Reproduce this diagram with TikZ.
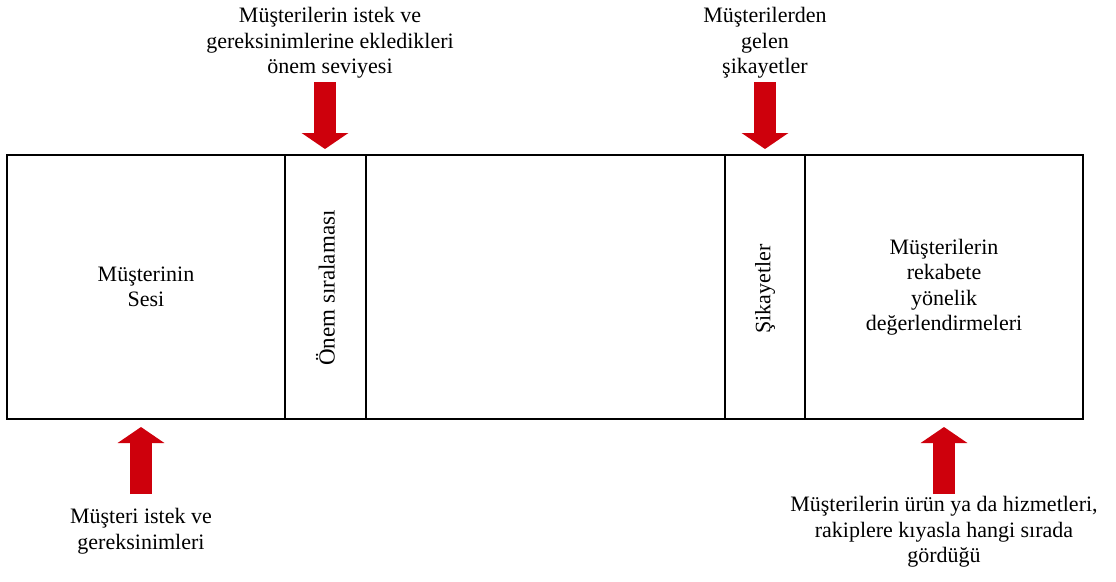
\documentclass[tikz,border=0pt]{standalone}
\usepackage{fontspec}
\newfontfamily\labelfont{Liberation Serif}
\usetikzlibrary{arrows.meta}
\definecolor{arrowred}{RGB}{206,0,12}
\begin{document}
\begin{tikzpicture}[x=1pt,y=-1pt,
  txt/.style={font=\labelfont\fontsize{22}{25.5}\selectfont, align=center, inner sep=0pt},
  cell/.style={draw, line width=2.8pt, inner sep=0pt, outer sep=0pt,
    minimum height=264pt, txt},
  bigarrow/.style={arrowred, line width=22pt,
    -{Triangle[width=46pt,length=16pt]}}]
\useasboundingbox (0,0) rectangle (1116,581);
\fill[white] (0,0) rectangle (1116,581);

% main strip of five sections
\node[cell, minimum width=278pt] (voc)   at (146,287)   {Müşterinin\\Sesi};
\node[cell, minimum width=81pt]  (imp)   at (325.5,287) {};
\node[cell, minimum width=359pt] (mid)   at (545.5,287) {};
\node[cell, minimum width=80pt]  (comp)  at (765,287)   {};
\node[cell, minimum width=278pt] (rival) at (944,287)
  {Müşterilerin\\rekabete\\yönelik\\değerlendirmeleri};

% vertical captions in the narrow sections
\node[txt, rotate=90, font=\labelfont\fontsize{23}{26}\selectfont]
  (impt) at ([yshift=-1pt]imp.center) {Önem sıralaması};
\node[txt, rotate=90] (compt) at ([yshift=-2pt]comp.center) {Şikayetler};

% input labels
\node[txt] (inImp)  at (330,43)
  {Müşterilerin istek ve\\gereksinimlerine ekledikleri\\önem seviyesi};
\node[txt] (inComp) at (765,43) {Müşterilerden\\gelen\\şikayetler};
\node[txt] (inVoc)  at (141,531) {Müşteri istek ve\\gereksinimleri};
\node[txt] (inRiv)  at (944,532)
  {Müşterilerin ürün ya da hizmetleri,\\rakiplere kıyasla hangi sırada\\gördüğü};

% arrow ends
\coordinate (a1s) at (325,82);
\coordinate (a1e) at (325,149);
\coordinate (a2s) at (765,82);
\coordinate (a2e) at (765,149);
\coordinate (a3s) at (141,494);
\coordinate (a3e) at (141,427);
\coordinate (a4s) at (944,494);
\coordinate (a4e) at (944,427);

\draw[bigarrow] (a1s) -- (a1e);
\draw[bigarrow] (a2s) -- (a2e);
\draw[bigarrow] (a3s) -- (a3e);
\draw[bigarrow] (a4s) -- (a4e);
\end{tikzpicture}
\end{document}
